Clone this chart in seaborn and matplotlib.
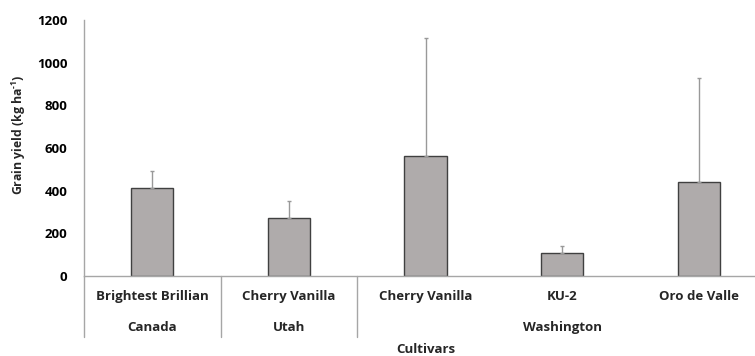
import matplotlib
matplotlib.use("Agg")
import matplotlib.pyplot as plt
import matplotlib.transforms as mtransforms
import seaborn as sns
import pandas as pd

# Grain yield by cultivar and location
regions = ["Canada", "Utah", "Washington", "Washington", "Washington"]
cultivars = ["Brightest Brillian", "Cherry Vanilla", "Cherry Vanilla", "KU-2", "Oro de Valle"]
yield_mean = [414, 270, 562, 106, 439]
yield_err = [78, 80, 555, 33, 491]
y_ticks = [0, 200, 400, 600, 800, 1000, 1200]

sns.set_theme(style="white")
FONT = "Open Sans"
plt.rcParams["font.family"] = [FONT, "DejaVu Sans"]
plt.rcParams["font.weight"] = "bold"
plt.rcParams["mathtext.fontset"] = "custom"
plt.rcParams["mathtext.rm"] = f"{FONT}:bold"
plt.rcParams["mathtext.bf"] = f"{FONT}:bold"
FS = 9.5

df = pd.DataFrame({
    "key": [f"{r}|{c}" for r, c in zip(regions, cultivars)],
    "region": regions,
    "cultivar": cultivars,
    "yield": yield_mean,
    "err": yield_err,
})

fig = plt.figure(figsize=(7.55, 3.56), dpi=100)
ax = fig.add_axes([84 / 755, 80 / 356, 683 / 755, 256 / 356])

sns.barplot(data=df, x="key", y="yield", order=df["key"], color="#AFABAB",
            saturation=1, width=0.31, edgecolor="#404040", linewidth=1.0,
            errorbar=None, ax=ax)
ax.errorbar(range(len(df)), df["yield"], yerr=[[0] * len(df), df["err"]],
            fmt="none", ecolor="#999999", elinewidth=1.0, capsize=1.5,
            capthick=1.0, zorder=1)

ax.set_xlim(-0.5, len(df) - 0.5)
ax.set_ylim(0, 1200)
ax.set_yticks(y_ticks)
ax.set_yticklabels([str(t) for t in y_ticks], fontsize=FS, fontweight="bold")
ax.tick_params(axis="y", length=0, pad=12, colors="#000000")
ax.tick_params(axis="x", length=0)
ax.set_xticks([])
ax.set_xlabel("")
ax.set_ylabel("Grain yield (kg ha$^{\\text{-1}}$)", fontsize=8.8,
              fontweight="bold", va="center")
ax.yaxis.set_label_coords(-0.095, 0.55)

for side in ["top", "right"]:
    ax.spines[side].set_visible(False)
for side in ["left", "bottom"]:
    ax.spines[side].set_color("#A6A6A6")
    ax.spines[side].set_linewidth(1.0)

# Two-level category axis: cultivar row and location row
trans = mtransforms.blended_transform_factory(ax.transData, ax.transAxes)
for i, c in enumerate(cultivars):
    ax.text(i, -0.082, c, transform=trans, ha="center", va="center",
            fontsize=FS, fontweight="bold")

groups = []
for i, r in enumerate(regions):
    if groups and groups[-1][0] == r:
        groups[-1][2] = i
    else:
        groups.append([r, i, i])
for r, start, end in groups:
    ax.text((start + end) / 2, -0.203, r, transform=trans, ha="center",
            va="center", fontsize=FS, fontweight="bold")
    ax.plot([start - 0.5, start - 0.5], [0, -0.238], transform=trans,
            color="#A6A6A6", linewidth=1.0, clip_on=False)

ax.text(0.5, -0.289, "Cultivars", transform=ax.transAxes, ha="center",
        va="center", fontsize=FS, fontweight="bold")

fig.savefig("out.png", dpi=100)
